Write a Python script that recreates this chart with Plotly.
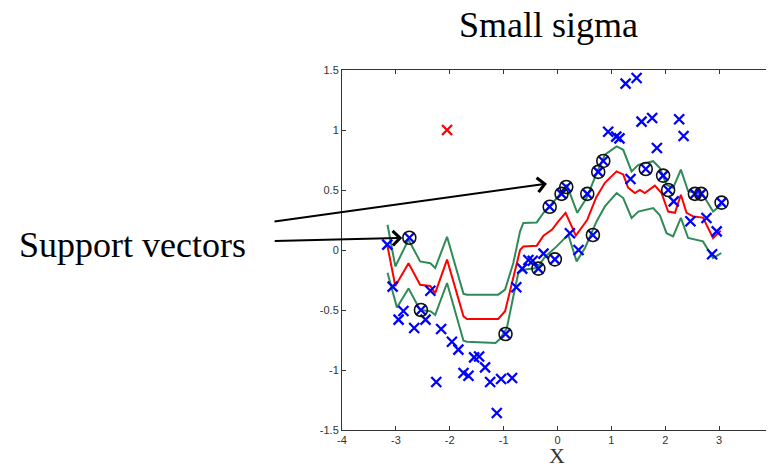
import plotly.graph_objects as go

# ---- data ----
pts_x = [-3.16, -3.06, -2.95, -2.86, -2.66, -2.45, -2.36, -2.16, -1.96, -1.84, -2.25,
         -1.745, -1.653, -1.548, -1.455, -1.344, -1.25, -1.047, -0.843, -1.127,
         -0.765, -0.655, -0.54, -0.46, -0.26, 0.23, 0.39,
         0.94, 1.09, 1.15, 1.264, 1.468, 1.56, 1.757, 2.258, 2.34, 1.845, 1.355,
         2.157, 2.467, 2.765, 2.955, 2.87]
pts_y = [0.045, -0.305, -0.58, -0.508, -0.65, -0.58, -0.34, -0.658, -0.765, -0.83, -1.10,
         -1.025, -1.048, -0.895, -0.887, -0.978, -1.10, -1.075, -1.067, -1.358,
         -0.31, -0.155, -0.083, -0.09, -0.03, 0.14, 0.0,
         0.985, 0.945, 0.93, 1.386, 1.433, 1.07, 1.10, 1.09, 0.95, 0.85, 0.592,
         0.405, 0.24, 0.267, 0.155, -0.035]

sv_x = [-2.75, -2.535, -0.965, -0.355, -0.049, -0.145, 0.075, 0.163, 0.553, 0.657,
        0.756, 0.85, 1.638, 1.96, 2.054, 2.55, 2.667, 3.045]
sv_y = [0.102, -0.50, -0.70, -0.155, -0.078, 0.36, 0.468, 0.525, 0.468, 0.125,
        0.651, 0.742, 0.675, 0.62, 0.50, 0.468, 0.468, 0.395]

out_x = [-2.05]
out_y = [1.0]

mid_x = [-3.155, -3.01, -2.765, -2.55, -2.36, -2.27, -2.05, -1.81, -1.745, -1.68,
         -1.1, -0.973, -0.79, -0.695, -0.634, -0.385, -0.26, -0.1, 0.0, 0.15, 0.34,
         0.55, 0.72, 0.88, 1.097, 1.22, 1.31, 1.436, 1.53, 1.62, 1.807, 1.93, 2.054,
         2.18, 2.29, 2.395, 2.517, 2.70, 2.888, 3.03]
mid_y = [0.03, -0.30, -0.11, -0.29, -0.30, -0.36, -0.08, -0.456, -0.553, -0.575,
         -0.575, -0.51, -0.16, 0.0, 0.03, 0.036, 0.12, 0.17, 0.23, 0.31, 0.12,
         0.25, 0.44, 0.56, 0.655, 0.63, 0.52, 0.475, 0.50, 0.475, 0.536, 0.475, 0.32,
         0.31, 0.46, 0.31, 0.28, 0.27, 0.10, 0.16]

up_x = [-3.155, -3.01, -2.765, -2.55, -2.36, -2.27, -2.05, -1.81, -1.745, -1.68,
        -1.1, -0.973, -0.82, -0.695, -0.634, -0.385, -0.26, 0.015, 0.17, 0.367,
        0.54, 0.727, 0.88, 1.097, 1.22, 1.375, 1.5, 1.776, 1.9, 2.024, 2.146, 2.29,
        2.425, 2.70, 2.888, 3.04]
up_y = [0.21, -0.137, 0.086, -0.095, -0.11, -0.15, 0.11, -0.26, -0.365, -0.372,
        -0.372, -0.33, -0.108, 0.155, 0.225, 0.23, 0.31, 0.447, 0.544, 0.31,
        0.433, 0.64, 0.794, 0.863, 0.835, 0.655, 0.71, 0.74, 0.683, 0.544, 0.517, 0.67,
        0.49, 0.46, 0.32, 0.377]

lo_x = [-3.155, -2.98, -2.765, -2.55, -2.36, -2.27, -2.05, -1.81, -1.745, -1.68,
        -1.15, -1.066, -0.94, -0.82, -0.727, -0.634, -0.385, -0.232, -0.015, 0.2,
        0.355, 0.51, 0.727, 0.88, 1.097, 1.22, 1.375, 1.5, 1.776, 1.9, 2.024, 2.146,
        2.29, 2.425, 2.70, 2.888, 3.04]
lo_y = [-0.19, -0.48, -0.32, -0.50, -0.51, -0.54, -0.275, -0.66, -0.756, -0.765,
        -0.775, -0.74, -0.65, -0.387, -0.19, -0.164, -0.15, -0.058, 0.03, 0.128,
        -0.095, 0.017, 0.24, 0.363, 0.475, 0.433, 0.267, 0.32, 0.35, 0.29, 0.14, 0.113,
        0.267, 0.10, 0.072, -0.067, -0.025]

x_ticks = [-4, -3, -2, -1, 0, 1, 2, 3, 4]
y_ticks = [-1.5, -1, -0.5, 0, 0.5, 1, 1.5]
y_tick_text = ["-1.5", "-1", "-0.5", "0", "0.5", "1", "1.5"]

GREEN = "#2E8B57"
BLUE = "#0000FF"

fig = go.Figure()
fig.add_trace(go.Scatter(x=up_x, y=up_y, mode="lines", line=dict(color=GREEN, width=2)))
fig.add_trace(go.Scatter(x=lo_x, y=lo_y, mode="lines", line=dict(color=GREEN, width=2)))
fig.add_trace(go.Scatter(x=mid_x, y=mid_y, mode="lines", line=dict(color="#FF0000", width=2)))
fig.add_trace(go.Scatter(x=pts_x + sv_x, y=pts_y + sv_y, mode="markers",
                         marker=dict(symbol="x-thin", size=10, line=dict(color=BLUE, width=2.3))))
fig.add_trace(go.Scatter(x=out_x, y=out_y, mode="markers",
                         marker=dict(symbol="x-thin", size=10, line=dict(color="#FF0000", width=2.3))))
fig.add_trace(go.Scatter(x=sv_x, y=sv_y, mode="markers",
                         marker=dict(symbol="circle-open", size=13, color="#111111",
                                     line=dict(color="#111111", width=1.6))))

axis_common = dict(showline=True, linecolor="#333333", linewidth=1, mirror="ticks",
                   ticks="inside", ticklen=4, tickcolor="#333333", showgrid=False,
                   zeroline=False,
                   tickfont=dict(family="Liberation Sans, Arial", size=11, color="#333333"))

fig.update_xaxes(range=[-4, 4], tickvals=x_ticks, ticktext=[str(v) for v in x_ticks],
                 **axis_common)
fig.update_yaxes(range=[-1.5, 1.5], tickvals=y_ticks, ticktext=y_tick_text, **axis_common)

serif = "Liberation Serif, Times New Roman, serif"
annos = [
    dict(text="Small sigma", xref="paper", yref="paper", x=0.478, y=1.125,
         xanchor="center", yanchor="middle", borderpad=0,
         showarrow=False, font=dict(family=serif, size=36, color="#000")),
    dict(text="Support vectors", xref="paper", yref="paper", x=-0.485, y=0.514,
         xanchor="center", yanchor="middle",
         showarrow=False, font=dict(family=serif, size=36, color="#000")),
    dict(text="X", xref="paper", yref="paper", x=0.499, y=-0.07,
         xanchor="center", yanchor="middle", borderpad=0,
         showarrow=False, font=dict(family=serif, size=22, color="#333")),
    dict(text="", x=-0.195, y=0.553, xref="x", yref="y", showarrow=True, ax=-274, ay=38,
         arrowhead=4, arrowsize=1.4, arrowwidth=2, arrowcolor="#000", standoff=0),
    dict(text="", x=-2.882, y=0.10, xref="x", yref="y", showarrow=True, ax=-129, ay=3,
         arrowhead=4, arrowsize=1.4, arrowwidth=2, arrowcolor="#000", standoff=0),
]

# the page body adds an 8px offset; size the figure so the plot area lands in place
fig.update_layout(width=766, height=460, showlegend=False,
                  margin=dict(l=334, r=1, t=62, b=38),
                  paper_bgcolor="white", plot_bgcolor="white",
                  annotations=annos)

fig.write_html("out.html")
